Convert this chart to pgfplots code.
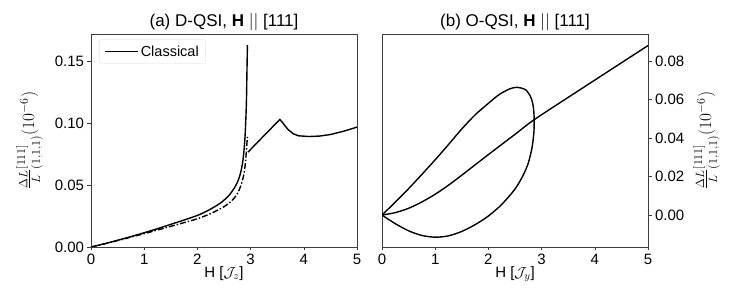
\documentclass[border=0pt]{standalone}
\usepackage{pgfplots}
\pgfplotsset{compat=1.18}
\usepackage{fontspec}
\setmainfont{Liberation Sans}
\usepackage{amsmath}
\definecolor{spine}{RGB}{60,60,60}
\begin{document}
\begin{tikzpicture}[x=1pt,y=1pt]
\path[use as bounding box] (0,0) rectangle (731,305);
\pgfplotsset{
  every axis/.append style={
    scale only axis, width=266pt, height=213pt, anchor=south west,
    axis line style={spine, line width=0.6pt},
    tick style={spine, line width=0.6pt},
    tick align=outside, major tick length=3.5pt,
    xmin=0, xmax=5, xtick={0,1,2,3,4,5},
    xtick pos=bottom,
    ticklabel style={font=\fontsize{15}{17}\selectfont},
    /pgf/number format/assume math mode=true,
    yticklabel style={/pgf/number format/fixed, /pgf/number format/fixed zerofill, /pgf/number format/precision=2},
    scaled y ticks=false,
    xlabel style={font=\fontsize{15}{17}\selectfont, yshift=5pt},
    title style={font=\fontsize{17}{19}\selectfont, yshift=-6pt},
  }
}
\begin{axis}[at={(91pt,58pt)},
  ymin=0, ymax=0.172, ytick={0,0.05,0.10,0.15},
  ytick pos=left,
  title={(a) D-QSI, \textbf{H} $||$ [111]},
  xlabel={H [$\mathcal{J}_z$]},
  ylabel={$\frac{\Delta L}{L}{}^{[111]}_{(1,1,1)}(10^{-6})$},
  ylabel style={font=\fontsize{16.5}{18}\selectfont, yshift=5pt},
  legend style={at={(0.03,0.975)}, anchor=north west, draw=black!15, rounded corners=2pt,
    font=\fontsize{14.5}{16}\selectfont, inner xsep=5pt, inner ysep=4pt},
  legend cell align=left,
  legend image code/.code={\draw[black, line width=1.6pt] (0pt,0pt) -- (33pt,0pt);},
]
\addplot[black, line width=1.4pt, smooth] coordinates {
(0,0) (0.25,0.0026) (0.5,0.0054) (0.75,0.0084) (1,0.0115) (1.25,0.0148) (1.5,0.0183)
(1.75,0.0218) (2,0.0255) (2.2,0.0295) (2.4,0.0345) (2.5,0.0378) (2.6,0.042) (2.7,0.048)
(2.75,0.052) (2.8,0.058) (2.85,0.068) (2.88,0.08) (2.9,0.093) (2.92,0.115) (2.93,0.138) (2.94,0.163)};
\addlegendentry{Classical}
\addplot[black, line width=1.4pt, forget plot] coordinates {
(2.95,0.0766) (3.55,0.103) (3.6,0.1005) (3.7,0.095) (3.8,0.0915) (3.9,0.0898) (4.1,0.0892)
(4.3,0.0896) (4.5,0.0908) (4.75,0.0935) (5,0.0968)};
\addplot[black, line width=1.4pt, dash pattern=on 6pt off 2pt on 1.5pt off 2pt, smooth, forget plot] coordinates {
(0,0) (0.25,0.0025) (0.5,0.0052) (0.75,0.008) (1,0.0108) (1.25,0.0137) (1.5,0.0167)
(1.75,0.0197) (2,0.0228) (2.25,0.027) (2.5,0.0325) (2.65,0.0375) (2.75,0.043) (2.82,0.05)
(2.87,0.058) (2.9,0.067) (2.92,0.077) (2.94,0.089)};
\end{axis}
\begin{axis}[at={(382pt,58pt)},
  ymin=-0.0166, ymax=0.094, ytick={0,0.02,0.04,0.06,0.08},
  ytick pos=right, yticklabel pos=right,
  title={(b) O-QSI, \textbf{H} $||$ [111]},
  xlabel={H [$\mathcal{J}_y$]},
  ylabel={$\frac{\Delta L}{L}{}^{[111]}_{(1,1,1)}(10^{-6})$},
  ylabel near ticks,
  ylabel style={font=\fontsize{16.5}{18}\selectfont, yshift=-2pt},
]
\addplot[black, line width=1.4pt, smooth] coordinates {
(0,0) (0.25,0.00125) (0.5,0.0035) (0.75,0.0068) (1,0.0108) (1.25,0.0155) (1.5,0.0207) (2,0.0314)
(2.5,0.0419) (2.855,0.0494) (3.5,0.0611) (5,0.088)};
\addplot[black, line width=1.4pt, smooth] coordinates {
(0,0) (0.25,-0.0045) (0.5,-0.0082) (0.75,-0.0106) (1,-0.0115) (1.25,-0.0108) (1.5,-0.0085)
(1.75,-0.005) (2,-0.0005) (2.25,0.0055) (2.5,0.0135) (2.65,0.0205) (2.75,0.027) (2.82,0.035)
(2.855,0.043) (2.86,0.05) (2.845,0.056) (2.8,0.061) (2.7,0.065) (2.54,0.0663) (2.4,0.0655)
(2.2,0.0625) (2,0.058) (1.75,0.052) (1.5,0.0447) (1.25,0.0366) (1,0.0287) (0.75,0.0211)
(0.5,0.0137) (0.25,0.0067) (0,0)};
\end{axis}
\end{tikzpicture}
\end{document}
